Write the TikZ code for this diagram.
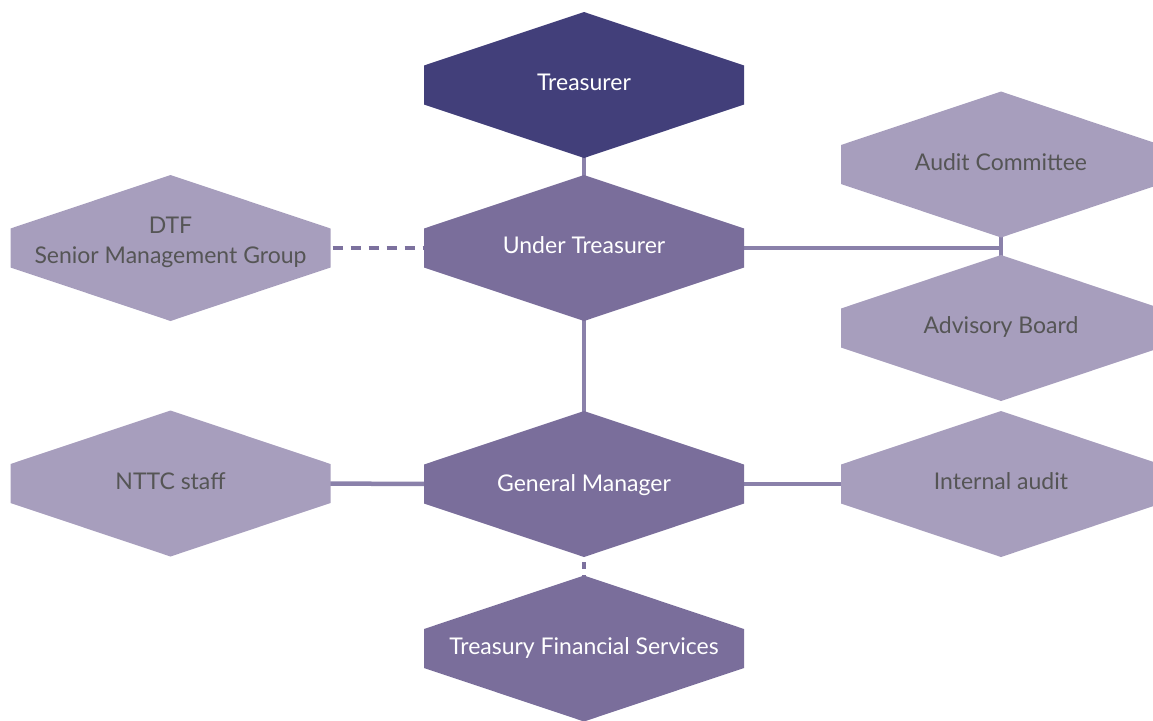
\documentclass[tikz,border=0pt]{standalone}
\usepackage{fontspec}
\setmainfont{Lato}
\usetikzlibrary{calc}

\definecolor{hexDark}{HTML}{423F7A}
\definecolor{hexMid}{HTML}{7A6E9B}
\definecolor{hexLight}{HTML}{A79EBD}
\definecolor{lineCol}{HTML}{8A81AA}
\definecolor{dashCol}{HTML}{7C719E}
\definecolor{greyText}{HTML}{555555}

\newcommand{\hexlabelfont}{\fontsize{23pt}{30pt}\selectfont}

\tikzset{
  hexa/.style={minimum width=320pt, minimum height=146pt, inner sep=0pt, outer sep=0pt,
    align=center, font=\hexlabelfont, text height=17pt, text depth=6pt,
    path picture={\fill[#1]
      (path picture bounding box.north)
      -- ($(path picture bounding box.east)+(0,-19.5)$)
      -- ($(path picture bounding box.east)+(0,19.5)$)
      -- (path picture bounding box.south)
      -- ($(path picture bounding box.west)+(0,19.5)$)
      -- ($(path picture bounding box.west)+(0,-19.5)$)
      -- cycle;}},
  chief/.style={hexa=hexDark, text=white},
  unit/.style={hexa=hexMid, text=white},
  outer/.style={hexa=hexLight, text=greyText},
  link/.style={draw=lineCol, line width=4.5pt},
  dashlink/.style={draw=dashCol, line width=4.5pt, dash pattern=on 10pt off 8pt}
}

\begin{document}
\begin{tikzpicture}[x=1pt, y=-1pt]
  \useasboundingbox (0,0) rectangle (1153,720);
  \clip (0,0) rectangle (1153,720);

  % centres of the hexagons
  \coordinate (tr-c) at (584,85);
  \coordinate (ut-c) at (584,248);
  \coordinate (gm-c) at (584,484);
  \coordinate (tfs-c) at (584,648.5);
  \coordinate (dtf-c) at (170.5,248);
  \coordinate (ac-c) at (1001,164.5);
  \coordinate (ab-c) at (1001,328);
  \coordinate (nttc-c) at (170.5,483.5);
  \coordinate (ia-c) at (1001,484);

  % connectors first, hexagons on top
  \draw[link] (tr-c) -- (ut-c);
  \draw[link] (ut-c) -- (gm-c);
  \draw[dashlink] (dtf-c) -- (ut-c);
  \draw[link] (ut-c) -- (ut-c -| ac-c);
  \draw[link] (ac-c) -- (ab-c);
  \draw[link] (nttc-c) -- (gm-c);
  \draw[link] (gm-c) -- (ia-c);
  \draw[dashlink, dash pattern=on 7pt off 6pt] (gm-c) -- (tfs-c);

  \node[chief] (tr) at (tr-c) {Treasurer};
  \node[unit] (ut) at (ut-c) {Under Treasurer};
  \node[unit, text depth=3pt] (gm) at (gm-c) {General Manager};
  \node[unit] (tfs) at (tfs-c) {Treasury Financial Services};
  \node[outer, text height=43pt, text depth=13pt] (dtf) at (dtf-c) {DTF\\Senior Management Group};
  \node[outer] (ac) at (ac-c) {Audit Committee};
  \node[outer] (ab) at (ab-c) {Advisory Board};
  \node[outer] (nttc) at (nttc-c) {NTTC staff};
  \node[outer] (ia) at (ia-c) {Internal audit};
\end{tikzpicture}
\end{document}
